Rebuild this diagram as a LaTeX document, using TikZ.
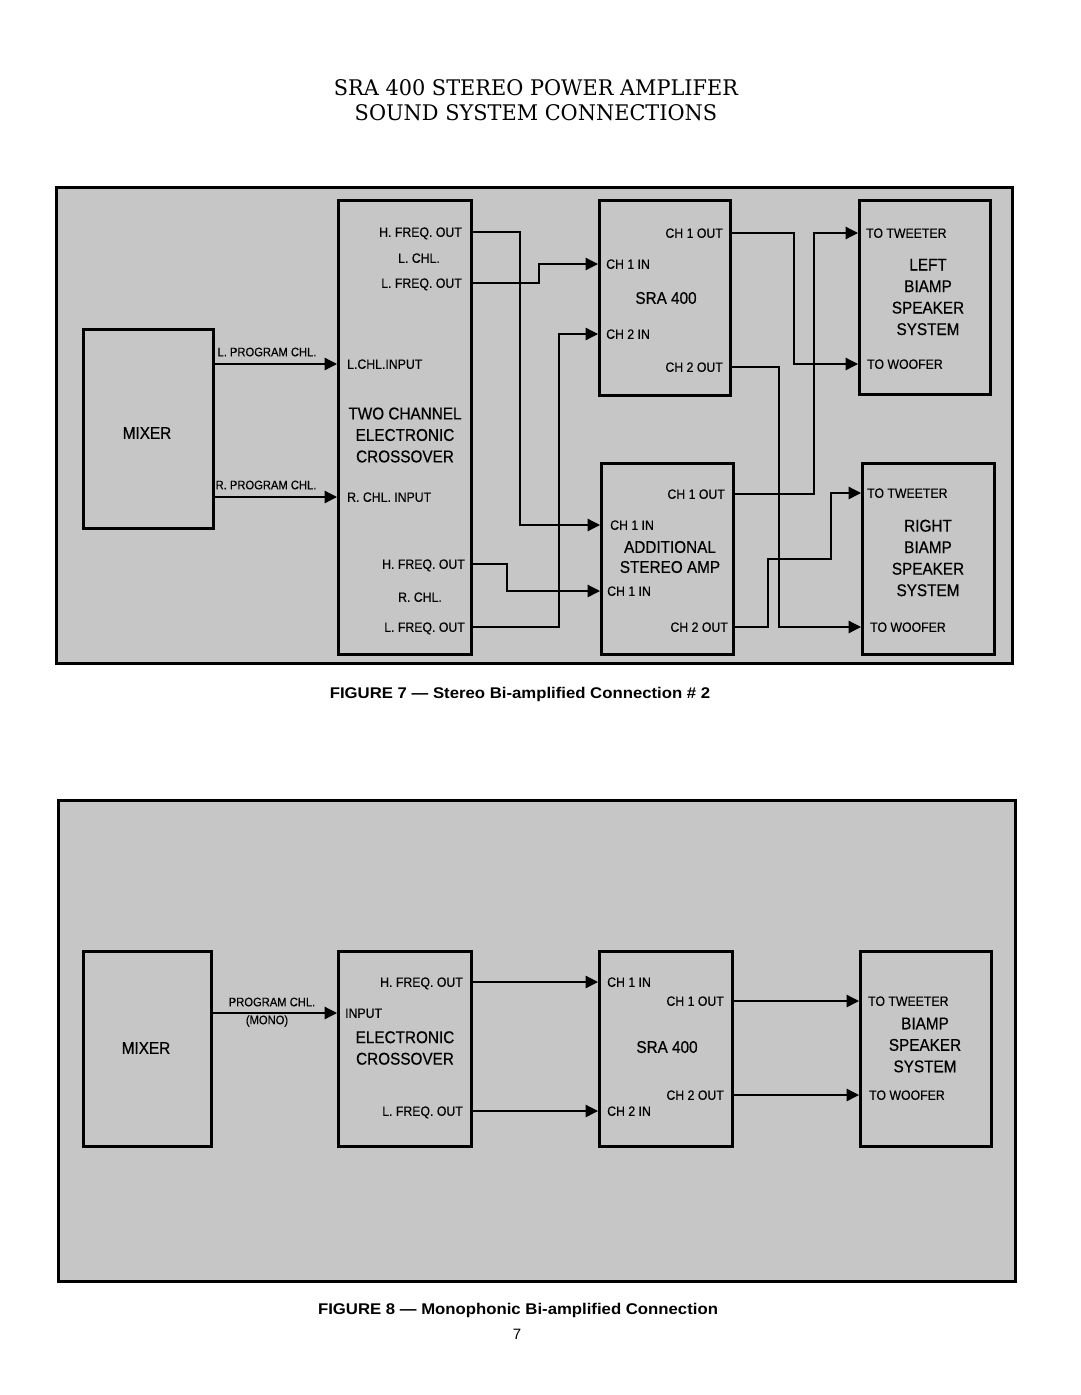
\documentclass[tikz,border=0pt]{standalone}
\usepackage{fontspec}
\newfontfamily\labf[FakeStretch=0.91,FakeBold=0.3]{Liberation Sans}
\newfontfamily\bigf[FakeStretch=0.9,FakeBold=0.5]{Liberation Sans}
\newfontfamily\capf[FakeStretch=1.08]{Liberation Sans}
\newfontfamily\pgf{Liberation Sans}
\newfontfamily\ttlf[FakeStretch=0.97]{DejaVu Serif}
\usetikzlibrary{arrows.meta}
\definecolor{panelgray}{RGB}{198,198,198}
\begin{document}
\begin{tikzpicture}[x=1pt,y=-1pt,
  panel/.style={draw, fill=panelgray, line width=3pt},
  box/.style={draw, line width=2.6pt, anchor=north west, inner sep=0pt},
  lbl/.style={font=\labf\fontsize{13.5}{15}\selectfont, inner sep=0pt, text height=9.6pt, text depth=0pt},
  big/.style={font=\bigf\fontsize{17}{21.5}\selectfont, align=center, inner sep=0pt},
  small/.style={font=\labf\fontsize{12.3}{14}\selectfont, inner sep=0pt},
  wire/.style={line width=1.3pt},
  arr/.style={wire, -{Triangle[length=12.5pt, width=12.5pt]}},
  captxt/.style={font=\capf\bfseries\fontsize{15.5}{18}\selectfont, inner sep=0pt},
  ttl/.style={font=\ttlf\fontsize{21.5}{25.5}\selectfont, align=center, inner sep=0pt}
]
\useasboundingbox (0,0) rectangle (1080,1395);
\fill[white] (0,0) rectangle (1080,1395);

% title
\node[ttl] (title) at (536,100) {SRA 400 STEREO POWER AMPLIFER\\SOUND SYSTEM CONNECTIONS};

% ================= Panel 1 =================
\draw[panel] (56,187) rectangle (1012,663);

\node[box, minimum width=130pt, minimum height=199pt] (mixer1) at (82,328) {};
\node[big] (mixt1) at (147,433) {MIXER};

\node[box, minimum width=133pt, minimum height=454pt] (xov1) at (337,199) {};
\node[lbl, anchor=east] (hfL) at (462,232) {H. FREQ. OUT};
\node[lbl] (lchl) at (419,258) {L. CHL.};
\node[lbl, anchor=east] (lfL) at (462,283) {L. FREQ. OUT};
\node[lbl, anchor=west] (lin) at (347,364) {L.CHL.INPUT};
\node[big] (xovt1) at (405,435) {TWO CHANNEL\\ELECTRONIC\\CROSSOVER};
\node[lbl, anchor=west] (rin) at (347,497) {R. CHL. INPUT};
\node[lbl, anchor=east] (hfR) at (465,564) {H. FREQ. OUT};
\node[lbl] (rchl) at (420,597) {R. CHL.};
\node[lbl, anchor=east] (lfR) at (465,627) {L. FREQ. OUT};

\node[small] (lpc) at (267,352) {L. PROGRAM CHL.};
\node[small] (rpc) at (266,485) {R. PROGRAM CHL.};

\node[box, minimum width=131pt, minimum height=195pt] (amp1) at (598,199) {};
\node[lbl, anchor=east] (a1o1) at (723,233) {CH 1 OUT};
\node[lbl, anchor=west] (a1i1) at (606,264) {CH 1 IN};
\node[big] (amp1t) at (666,298) {SRA 400};
\node[lbl, anchor=west] (a1i2) at (606,334) {CH 2 IN};
\node[lbl, anchor=east] (a1o2) at (723,367) {CH 2 OUT};

\node[box, minimum width=132pt, minimum height=191pt] (amp2) at (600,462) {};
\node[lbl, anchor=east] (a2o1) at (725,494) {CH 1 OUT};
\node[lbl, anchor=west] (a2i1) at (610,525) {CH 1 IN};
\node[big, font=\bigf\fontsize{17}{20}\selectfont] (amp2t) at (670,557) {ADDITIONAL\\STEREO AMP};
\node[lbl, anchor=west] (a2i1b) at (607,591) {CH 1 IN};
\node[lbl, anchor=east] (a2o2) at (728,627) {CH 2 OUT};

\node[box, minimum width=131pt, minimum height=194pt] (spkL) at (858,199) {};
\node[lbl, anchor=west] (ltw) at (866,233) {TO TWEETER};
\node[big] (spkLt) at (928,297) {LEFT\\BIAMP\\SPEAKER\\SYSTEM};
\node[lbl, anchor=west] (lwo) at (867,364) {TO WOOFER};

\node[box, minimum width=132pt, minimum height=191pt] (spkR) at (861,462) {};
\node[lbl, anchor=west] (rtw) at (867,493) {TO TWEETER};
\node[big] (spkRt) at (928,558) {RIGHT\\BIAMP\\SPEAKER\\SYSTEM};
\node[lbl, anchor=west] (rwo) at (870,627) {TO WOOFER};

% routing columns
\coordinate (v1) at (520,0);
\coordinate (v2) at (539,0);
\coordinate (v3) at (507,0);
\coordinate (v4) at (559,0);
\coordinate (v5) at (794,0);
\coordinate (v6) at (779,0);
\coordinate (v7) at (814,0);
\coordinate (v8) at (768,0);
\coordinate (v9) at (831,0);
\coordinate (j1) at (0,559);

\draw[arr] (mixer1.east |- lin) -- (lin -| xov1.west);
\draw[arr] (mixer1.east |- rin) -- (rin -| xov1.west);
\draw[arr] (hfL -| xov1.east) -- (hfL -| v1) |- (a2i1 -| amp2.west);
\draw[arr] (lfL -| xov1.east) -- (lfL -| v2) |- (a1i1 -| amp1.west);
\draw[arr] (hfR -| xov1.east) -- (hfR -| v3) |- (a2i1b -| amp2.west);
\draw[arr] (lfR -| xov1.east) -- (lfR -| v4) |- (a1i2 -| amp1.west);
\draw[arr] (a1o1 -| amp1.east) -- (a1o1 -| v5) |- (lwo -| spkL.west);
\draw[arr] (a1o2 -| amp1.east) -- (a1o2 -| v6) |- (rwo -| spkR.west);
\draw[arr] (a2o1 -| amp2.east) -- (a2o1 -| v7) |- (ltw -| spkL.west);
\draw[arr] (a2o2 -| amp2.east) -- (a2o2 -| v8) -- (v8 |- j1) -- (j1 -| v9) |- (rtw -| spkR.west);

\node[captxt] (cap7) at (520,694) {FIGURE 7 — Stereo Bi-amplified Connection \# 2};

% ================= Panel 2 =================
\draw[panel] (58,800) rectangle (1015,1281);

\node[box, minimum width=128pt, minimum height=195pt] (mixer2) at (82,950) {};
\node[big] (mixt2) at (146,1048) {MIXER};

\node[box, minimum width=133pt, minimum height=195pt] (xov2) at (337,950) {};
\node[lbl, anchor=east] (hf2) at (463,982) {H. FREQ. OUT};
\node[lbl, anchor=west] (inp) at (345,1013) {INPUT};
\node[big] (xovt2) at (405,1048) {ELECTRONIC\\CROSSOVER};
\node[lbl, anchor=east] (lf2) at (463,1111) {L. FREQ. OUT};

\node[small] (pc) at (272,1002) {PROGRAM CHL.};
\node[small] (mono) at (267,1021) {(MONO)};

\node[box, minimum width=133pt, minimum height=195pt] (amp3) at (598,950) {};
\node[lbl, anchor=west] (c1i) at (607,982) {CH 1 IN};
\node[lbl, anchor=east] (c1o) at (724,1001) {CH 1 OUT};
\node[big] (amp3t) at (667,1047) {SRA 400};
\node[lbl, anchor=east] (c2o) at (724,1095) {CH 2 OUT};
\node[lbl, anchor=west] (c2i) at (607,1111) {CH 2 IN};

\node[box, minimum width=131pt, minimum height=195pt] (spkM) at (859,950) {};
\node[lbl, anchor=west] (mtw) at (868,1001) {TO TWEETER};
\node[big] (spkMt) at (925,1045) {BIAMP\\SPEAKER\\SYSTEM};
\node[lbl, anchor=west] (mwo) at (869,1095) {TO WOOFER};

\draw[arr] (mixer2.east |- inp) -- (inp -| xov2.west);
\draw[arr] (hf2 -| xov2.east) -- (c1i -| amp3.west);
\draw[arr] (lf2 -| xov2.east) -- (c2i -| amp3.west);
\draw[arr] (c1o -| amp3.east) -- (mtw -| spkM.west);
\draw[arr] (c2o -| amp3.east) -- (mwo -| spkM.west);

\node[captxt] (cap8) at (518,1310) {FIGURE 8 — Monophonic Bi-amplified Connection};
\node[font=\pgf\fontsize{15}{17}\selectfont, inner sep=0pt] (pgno) at (517,1334) {7};
\end{tikzpicture}
\end{document}
